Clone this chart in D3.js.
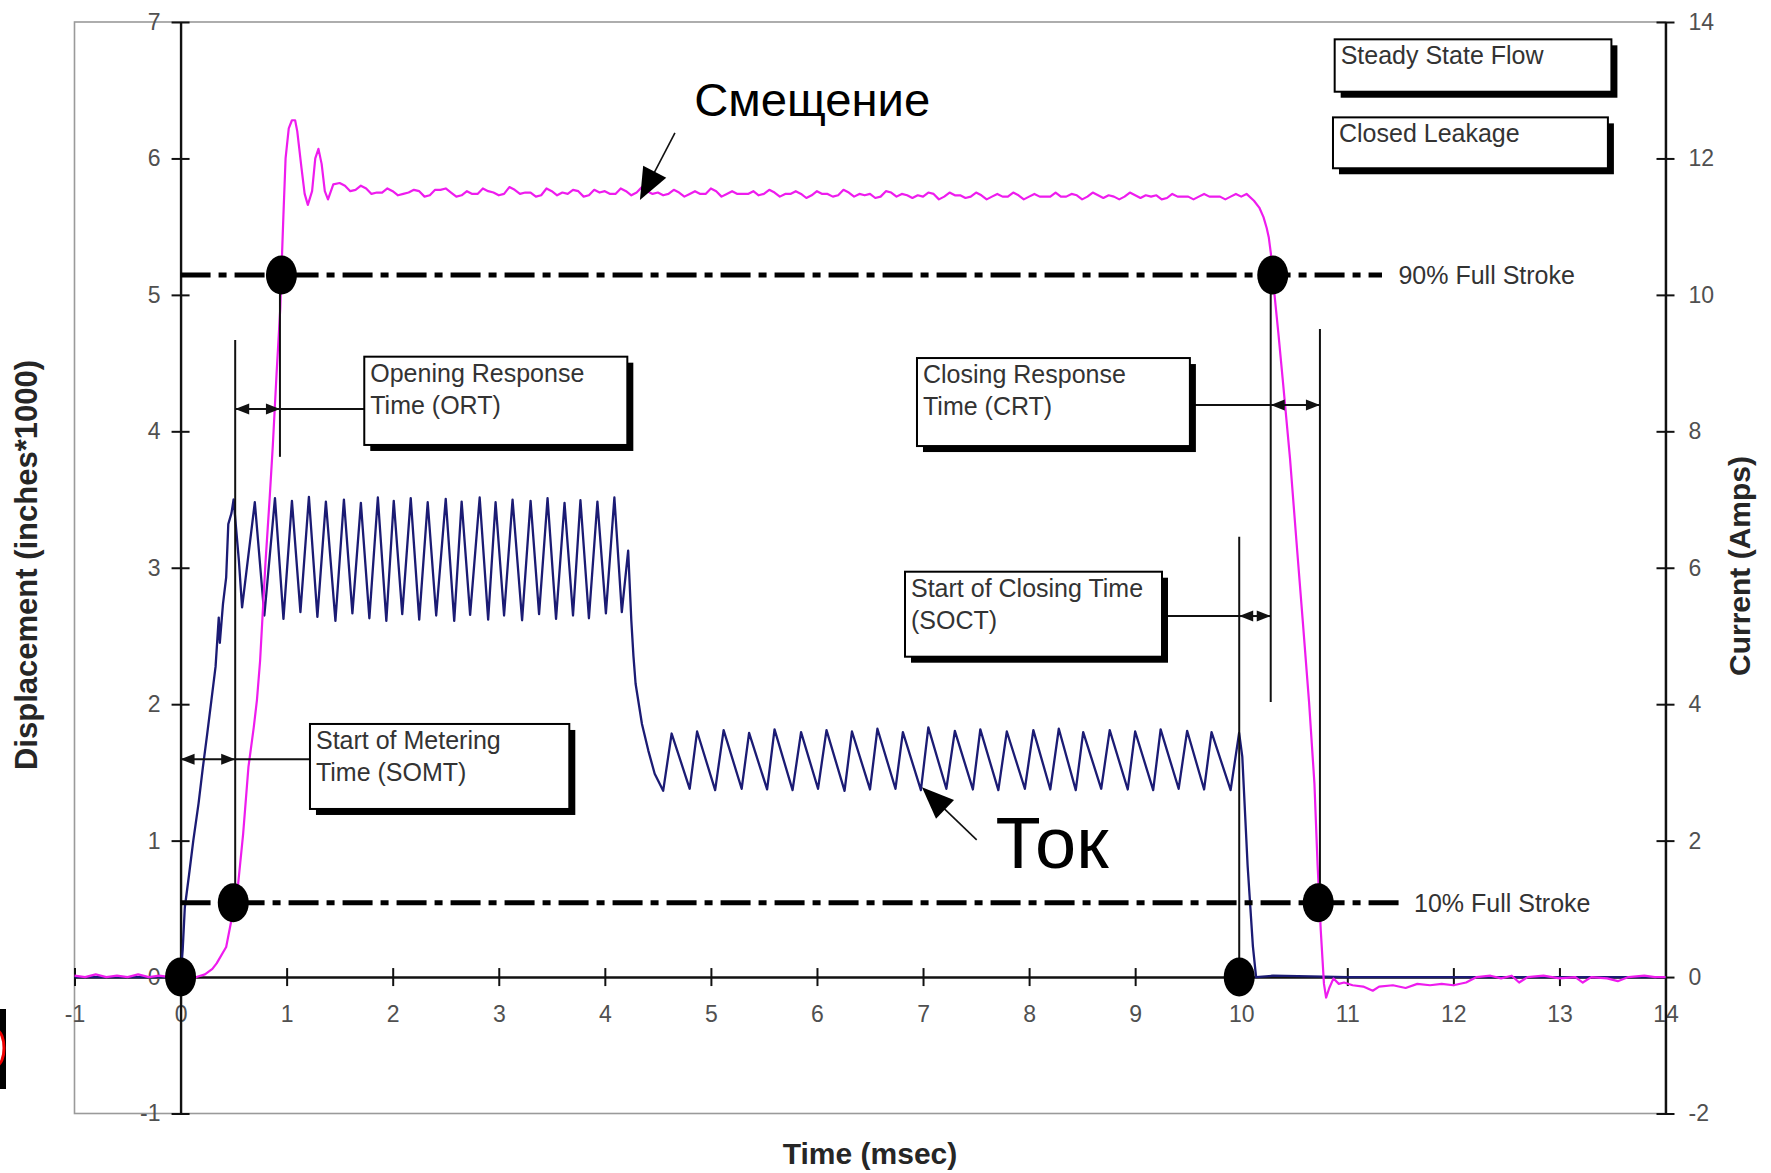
<!DOCTYPE html>
<html><head><meta charset="utf-8">
<script src="https://cdn.jsdelivr.net/npm/d3@7"></script>
<style>
html,body{margin:0;padding:0;background:#fff;overflow:hidden}
svg{display:block}
</style></head><body>
<script>
// ---------------- DATA ----------------
const xTicks = [-1,0,1,2,3,4,5,6,7,8,9,10,11,12,13,14];
const leftTicks = [-1,0,1,2,3,4,5,6,7];
const rightTicks = [-2,0,2,4,6,8,10,12,14];

// displacement (inches*1000) vs time (msec)
const displacementSeries = [
[-1.00,0.01],[-0.90,0.00],[-0.80,0.02],[-0.70,0.00],[-0.60,0.01],[-0.50,0.00],[-0.40,0.02],[-0.30,0.00],[-0.20,0.01],[-0.10,0.00],
[0.00,0.00],[0.10,-0.01],[0.15,0.00],[0.23,0.02],[0.30,0.06],[0.34,0.10],[0.43,0.22],[0.48,0.42],[0.50,0.52],[0.54,0.66],
[0.59,1.05],[0.64,1.54],[0.69,1.83],[0.72,2.03],[0.75,2.32],[0.80,3.03],[0.84,3.51],[0.87,3.90],[0.905,4.42],[0.94,4.90],
[0.95,5.15],[0.97,5.59],[0.99,6.00],[1.02,6.22],[1.05,6.28],[1.08,6.28],[1.10,6.20],[1.14,5.93],[1.17,5.74],[1.20,5.66],
[1.24,5.76],[1.27,6.00],[1.30,6.07],[1.33,5.96],[1.36,5.76],[1.39,5.70],[1.44,5.81],
[1.50,5.82],[1.55,5.80],[1.60,5.76],[1.65,5.77],[1.70,5.80],[1.75,5.78],[1.80,5.74],[1.85,5.75],[1.90,5.75],[1.95,5.78],
[2.00,5.76],[2.05,5.73],[2.10,5.74],[2.15,5.75],[2.20,5.77],[2.25,5.76],[2.30,5.72],[2.35,5.73],[2.40,5.77],[2.45,5.77],
[2.50,5.78],[2.55,5.75],[2.60,5.72],[2.65,5.73],[2.70,5.76],[2.75,5.74],[2.80,5.74],[2.85,5.78],[2.90,5.76],[2.95,5.75],
[3.00,5.73],[3.05,5.74],[3.10,5.79],[3.15,5.77],[3.20,5.74],[3.25,5.75],[3.30,5.75],[3.35,5.72],[3.40,5.73],[3.45,5.78],
[3.50,5.76],[3.55,5.73],[3.60,5.75],[3.65,5.74],[3.70,5.77],[3.75,5.76],[3.80,5.72],[3.85,5.73],[3.90,5.77],[3.95,5.75],
[4.00,5.76],[4.05,5.74],[4.10,5.74],[4.15,5.78],[4.20,5.76],[4.25,5.73],[4.30,5.75],[4.35,5.79],[4.40,5.76],[4.45,5.74],
[4.50,5.75],[4.55,5.73],[4.60,5.74],[4.65,5.77],[4.70,5.75],[4.75,5.72],[4.80,5.74],[4.85,5.76],[4.90,5.74],[4.95,5.74],
[5.00,5.78],[5.05,5.76],[5.10,5.72],[5.15,5.74],[5.20,5.76],[5.25,5.74],[5.30,5.74],[5.35,5.74],[5.40,5.76],[5.45,5.73],
[5.50,5.74],[5.55,5.77],[5.60,5.75],[5.65,5.72],[5.70,5.74],[5.75,5.74],[5.80,5.76],[5.85,5.74],[5.90,5.71],[5.95,5.73],
[6.00,5.76],[6.05,5.74],[6.10,5.74],[6.15,5.72],[6.20,5.73],[6.25,5.77],[6.30,5.75],[6.35,5.72],[6.40,5.74],[6.45,5.73],
[6.50,5.74],[6.55,5.71],[6.60,5.72],[6.65,5.76],[6.70,5.75],[6.75,5.72],[6.80,5.74],[6.85,5.73],[6.90,5.71],[6.95,5.73],
[7.00,5.72],[7.05,5.75],[7.10,5.74],[7.15,5.70],[7.20,5.72],[7.25,5.75],[7.30,5.73],[7.35,5.73],[7.40,5.71],[7.45,5.72],
[7.50,5.75],[7.55,5.73],[7.60,5.70],[7.65,5.72],[7.70,5.74],[7.75,5.72],[7.80,5.72],[7.85,5.75],[7.90,5.73],[7.95,5.70],
[8.00,5.72],[8.05,5.74],[8.10,5.72],[8.15,5.72],[8.20,5.72],[8.25,5.75],[8.30,5.72],[8.35,5.72],[8.40,5.74],[8.45,5.73],
[8.50,5.70],[8.55,5.72],[8.60,5.75],[8.65,5.73],[8.70,5.71],[8.75,5.73],[8.80,5.72],[8.85,5.70],[8.90,5.72],[8.95,5.75],
[9.00,5.73],[9.05,5.71],[9.10,5.73],[9.15,5.72],[9.20,5.73],[9.25,5.70],[9.30,5.71],[9.35,5.74],[9.40,5.72],[9.45,5.72],
[9.50,5.72],[9.55,5.70],[9.60,5.72],[9.65,5.74],[9.70,5.72],[9.75,5.72],[9.80,5.72],[9.85,5.70],[9.90,5.72],[9.95,5.74],
[10.00,5.72],[10.05,5.74],[10.12,5.69],[10.17,5.64],[10.21,5.57],[10.24,5.49],[10.26,5.42],[10.28,5.30],[10.29,5.15],[10.31,5.03],
[10.35,4.72],[10.39,4.39],[10.46,3.80],[10.52,3.20],[10.58,2.61],[10.64,2.01],[10.69,1.42],[10.72,0.82],[10.75,0.34],[10.78,-0.05],
[10.80,-0.15],[10.83,-0.08],[10.87,-0.01],[10.92,-0.05],[10.97,-0.04],[11.05,-0.06],[11.15,-0.07],[11.24,-0.10],[11.30,-0.07],[11.43,-0.06],
[11.55,-0.08],[11.66,-0.05],[11.78,-0.06],[11.89,-0.05],[12.00,-0.06],[12.12,-0.04],[12.22,0.00],[12.35,0.01],[12.45,-0.01],[12.55,0.01],
[12.62,-0.04],[12.70,0.00],[12.85,0.01],[13.00,-0.01],[13.15,0.00],[13.22,-0.04],[13.30,0.00],[13.45,-0.01],[13.55,-0.03],[13.65,0.00],
[13.80,0.01],[13.90,0.00],[14.00,0.00]
];

// current (amps) vs time (msec)
const currentSeries = [
[-1.00,0],[0.00,0],[0.02,0.40],[0.04,1.02],[0.08,1.50],[0.12,2.00],[0.17,2.55],[0.21,3.07],[0.25,3.55],[0.29,4.05],
[0.33,4.55],[0.36,5.27],[0.37,4.90],[0.40,5.47],[0.43,5.86],[0.45,6.64],[0.48,6.80],[0.50,7.00],[0.55,6.10],[0.58,5.42],
[0.70,6.96],[0.79,5.30],[0.89,7.02],[0.97,5.25],[1.05,6.98],[1.13,5.35],[1.21,7.04],[1.29,5.28],[1.37,6.97],[1.46,5.22],
[1.54,7.00],[1.62,5.33],[1.70,6.95],[1.78,5.26],[1.86,7.03],[1.94,5.22],[2.01,6.98],[2.09,5.32],[2.17,7.02],[2.25,5.24],
[2.33,6.96],[2.41,5.30],[2.50,7.01],[2.58,5.22],[2.65,6.97],[2.73,5.31],[2.82,7.03],[2.90,5.24],[2.97,6.96],[3.05,5.30],
[3.13,7.00],[3.22,5.23],[3.30,6.98],[3.38,5.32],[3.46,7.02],[3.54,5.25],[3.62,6.95],[3.70,5.30],[3.77,6.99],[3.85,5.26],
[3.93,6.97],[4.01,5.33],[4.09,7.03],[4.16,5.35],[4.22,6.25],[4.25,5.22],[4.27,4.70],[4.29,4.30],[4.35,3.71],[4.41,3.32],
[4.47,2.98],[4.55,2.73],[4.63,3.57],[4.80,2.76],[4.87,3.60],[5.04,2.74],[5.12,3.62],[5.29,2.76],[5.36,3.58],[5.53,2.75],
[5.60,3.63],[5.77,2.74],[5.85,3.59],[6.01,2.76],[6.09,3.62],[6.26,2.73],[6.33,3.60],[6.50,2.75],[6.57,3.64],[6.74,2.76],
[6.81,3.59],[6.98,2.74],[7.05,3.66],[7.22,2.76],[7.30,3.61],[7.47,2.75],[7.54,3.63],[7.71,2.74],[7.79,3.60],[7.96,2.76],
[8.04,3.62],[8.20,2.75],[8.28,3.64],[8.44,2.74],[8.51,3.59],[8.68,2.76],[8.76,3.62],[8.93,2.75],[9.00,3.60],[9.17,2.74],
[9.24,3.63],[9.41,2.76],[9.49,3.61],[9.65,2.75],[9.72,3.59],[9.90,2.74],[9.98,3.58],[10.01,3.23],[10.06,1.64],[10.11,0.45],
[10.14,0.00],[10.30,0.02],[11.00,0.00],[14.00,0.00]
];

// full-stroke reference levels (displacement)
const strokeLevels = [
  {label:"90% Full Stroke", value:5.145, end:11.327, labelAt:11.482},
  {label:"10% Full Stroke", value:0.545, end:11.525, labelAt:11.629}
];
// event markers (time, displacement)
const eventPoints = [[0,0],[0.497,0.545],[0.951,5.145],[10.297,5.145],[10.726,0.545],[9.981,0]];

// annotation boxes (data units: time t1..t2, displacement d1..d2)
const boxes = [
  {lines:["Opening Response","Time (ORT)"], t:[1.732,4.212], d:[4.547,3.900]},
  {lines:["Start of Metering","Time (SOMT)"], t:[1.220,3.665], d:[1.855,1.232]},
  {lines:["Closing Response","Time (CRT)"], t:[6.943,9.516], d:[4.537,3.892]},
  {lines:["Start of Closing Time","(SOCT)"], t:[6.830,9.253], d:[2.971,2.348]},
  {lines:["Steady State Flow"], t:[10.881,13.490], d:[6.873,6.489]},
  {lines:["Closed Leakage"], t:[10.865,13.457], d:[6.301,5.928]}
];
// vertical marker lines [time, d from, d to]
const markerLines = [[0.515,4.669,0.545],[0.937,5.145,3.813],[10.278,5.145,2.016],[10.742,4.750,0.545],[9.981,3.227,0]];
// double arrows [t1, t2, d] and connectors [t1, t2, d]
const doubleArrows = [[0.515,0.937,4.163],[0,0.515,1.596],[10.278,10.742,4.193],[9.981,10.278,2.646]];
const connectors = [[0.937,1.852,4.163],[0.515,1.346,1.596],[9.516,10.278,4.193],[9.253,9.981,2.646]];

// ---------------- CHART ----------------
const W = 1771, H = 1173;
const FONT = "'Liberation Sans', Arial, Helvetica, sans-serif";
const svg = d3.select("body").append("svg").attr("width", W).attr("height", H)
  .style("font-family", FONT);

const x = d3.scaleLinear().domain([-1, 14]).range([74.5, 1665.5]);
const yL = d3.scaleLinear().domain([-1, 7]).range([1113.5, 22]);
const yR = d3.scaleLinear().domain([-2, 14]).range([1113.5, 22]);
const plainFmt = d => String(d);

// plot frame
svg.append("rect")
  .attr("x", x(-1)).attr("y", yL(7))
  .attr("width", x(14) - x(-1)).attr("height", yL(-1) - yL(7))
  .attr("fill", "none").attr("stroke", "#9a9a9a").attr("stroke-width", 1.6);

// axes
const tickColor = "#505050";
const gB = svg.append("g").attr("transform", `translate(0,${yL(0)})`)
  .call(d3.axisBottom(x).tickValues(xTicks).tickFormat(plainFmt).tickSizeOuter(0).tickSizeInner(9));
gB.selectAll(".tick line").attr("y1", -9).attr("y2", 9).attr("stroke", "#111").attr("stroke-width", 2);
gB.selectAll(".tick text").attr("y", 45).attr("dy", null);

const gL = svg.append("g").attr("transform", `translate(${x(0)},0)`)
  .call(d3.axisLeft(yL).tickValues(leftTicks).tickFormat(plainFmt).tickSizeOuter(0).tickSizeInner(9).tickPadding(11));
gL.selectAll(".tick line").attr("x1", -9).attr("x2", 9).attr("stroke", "#111").attr("stroke-width", 2);

const gR = svg.append("g").attr("transform", `translate(${x(14)},0)`)
  .call(d3.axisRight(yR).tickValues(rightTicks).tickFormat(plainFmt).tickSizeOuter(0).tickSizeInner(9).tickPadding(14));
gR.selectAll(".tick line").attr("x1", -9).attr("x2", 9).attr("stroke", "#111").attr("stroke-width", 2);

[gB, gL, gR].forEach(g => {
  g.attr("font-family", FONT).attr("font-size", 23);
  g.selectAll(".tick text").attr("fill", tickColor);
  g.select(".domain").attr("stroke", "#111").attr("stroke-width", 2.4);
});

// axis titles
svg.append("text").attr("transform", `translate(37,565) rotate(-90)`)
  .attr("text-anchor", "middle").attr("font-weight", "bold").attr("font-size", 31)
  .attr("fill", "#262626").text("Displacement (inches*1000)");
svg.append("text").attr("transform", `translate(1750,566) rotate(-90)`)
  .attr("text-anchor", "middle").attr("font-weight", "bold").attr("font-size", 30)
  .attr("fill", "#262626").text("Current (Amps)");
svg.append("text").attr("x", 870).attr("y", 1164)
  .attr("text-anchor", "middle").attr("font-weight", "bold").attr("font-size", 30)
  .attr("fill", "#262626").text("Time (msec)");

// data lines
const lineCurrent = d3.line().x(d => x(d[0])).y(d => yR(d[1]));
const lineDisp = d3.line().x(d => x(d[0])).y(d => yL(d[1]));
svg.append("path").datum(currentSeries).attr("d", lineCurrent)
  .attr("fill", "none").attr("stroke", "#1b1b74").attr("stroke-width", 2.3).attr("stroke-linejoin", "round");
svg.append("path").datum(displacementSeries).attr("d", lineDisp)
  .attr("fill", "none").attr("stroke", "#ee1cee").attr("stroke-width", 2.2).attr("stroke-linejoin", "round");

// full-stroke dash-dot lines
strokeLevels.forEach(s => {
  svg.append("line").attr("x1", x(0)).attr("x2", x(s.end))
    .attr("y1", yL(s.value)).attr("y2", yL(s.value))
    .attr("stroke", "#000").attr("stroke-width", 5).attr("stroke-dasharray", "30,8,8,8");
  svg.append("text").attr("x", x(s.labelAt)).attr("y", yL(s.value)).attr("dy", "0.36em")
    .attr("font-size", 25).attr("fill", "#333").text(s.label);
});

// marker verticals
markerLines.forEach(m => {
  svg.append("line").attr("x1", x(m[0])).attr("x2", x(m[0]))
    .attr("y1", yL(m[1])).attr("y2", yL(m[2]))
    .attr("stroke", "#111").attr("stroke-width", 2);
});

// connectors and double arrows
const head = (tipX, tipY, dirX, dirY, len, hw) => {
  const bx = tipX - dirX * len, by = tipY - dirY * len;
  const px = -dirY, py = dirX;
  return `M${tipX},${tipY}L${bx + px * hw},${by + py * hw}L${bx - px * hw},${by - py * hw}Z`;
};
connectors.forEach(c => {
  svg.append("line").attr("x1", x(c[0])).attr("x2", x(c[1]))
    .attr("y1", yL(c[2])).attr("y2", yL(c[2]))
    .attr("stroke", "#111").attr("stroke-width", 2);
});
doubleArrows.forEach(a => {
  const y = yL(a[2]), x1 = x(a[0]), x2 = x(a[1]);
  svg.append("line").attr("x1", x1).attr("x2", x2).attr("y1", y).attr("y2", y)
    .attr("stroke", "#111").attr("stroke-width", 2);
  svg.append("path").attr("d", head(x1, y, -1, 0, 14, 5.5)).attr("fill", "#111");
  svg.append("path").attr("d", head(x2, y, 1, 0, 14, 5.5)).attr("fill", "#111");
});

// annotation boxes
boxes.forEach(b => {
  const bx = x(b.t[0]), bw = x(b.t[1]) - x(b.t[0]);
  const by = yL(b.d[0]), bh = yL(b.d[1]) - yL(b.d[0]);
  svg.append("rect").attr("x", bx + 6).attr("y", by + 6).attr("width", bw).attr("height", bh).attr("fill", "#000");
  svg.append("rect").attr("x", bx).attr("y", by).attr("width", bw).attr("height", bh)
    .attr("fill", "#fff").attr("stroke", "#000").attr("stroke-width", 2);
  b.lines.forEach((ln, i) => {
    svg.append("text").attr("x", bx + 6).attr("y", by + 25 + i * 32)
      .attr("font-size", 25).attr("fill", "#333").text(ln);
  });
});

// event dots
svg.selectAll("ellipse.ev").data(eventPoints).join("ellipse").attr("class", "ev")
  .attr("cx", d => x(d[0])).attr("cy", d => yL(d[1]))
  .attr("rx", 15.5).attr("ry", 19.5).attr("fill", "#000");

// overlay labels (Russian)
const overlay = [
  {text:"Смещение", t:4.843, d:6.311, size:46, len:236, from:[4.661,6.188], tip:[4.331,5.695]},
  {text:"Ток", t:7.684, d:0.803, size:73, len:113, from:[7.506,1.005], tip:[6.990,1.391]}
];
overlay.forEach(o => {
  svg.append("text").attr("x", x(o.t)).attr("y", yL(o.d))
    .attr("font-size", o.size).attr("fill", "#000")
    .attr("textLength", o.len).attr("lengthAdjust", "spacingAndGlyphs").text(o.text);
  const fx = x(o.from[0]), fy = yL(o.from[1]), tx = x(o.tip[0]), ty = yL(o.tip[1]);
  const L = Math.hypot(tx - fx, ty - fy), ux = (tx - fx) / L, uy = (ty - fy) / L;
  svg.append("line").attr("x1", fx).attr("y1", fy).attr("x2", tx - ux * 20).attr("y2", ty - uy * 20)
    .attr("stroke", "#111").attr("stroke-width", 1.6);
  svg.append("path").attr("d", head(tx, ty, ux, uy, 32, 13)).attr("fill", "#000");
});

// slide artifact at left edge
svg.append("rect").attr("x", 0).attr("y", 1009).attr("width", 6).attr("height", 80).attr("fill", "#000");
svg.append("ellipse").attr("cx", -3).attr("cy", 1048).attr("rx", 7).attr("ry", 17)
  .attr("fill", "#fff").attr("stroke", "#e00").attr("stroke-width", 3);
</script>
</body></html>
